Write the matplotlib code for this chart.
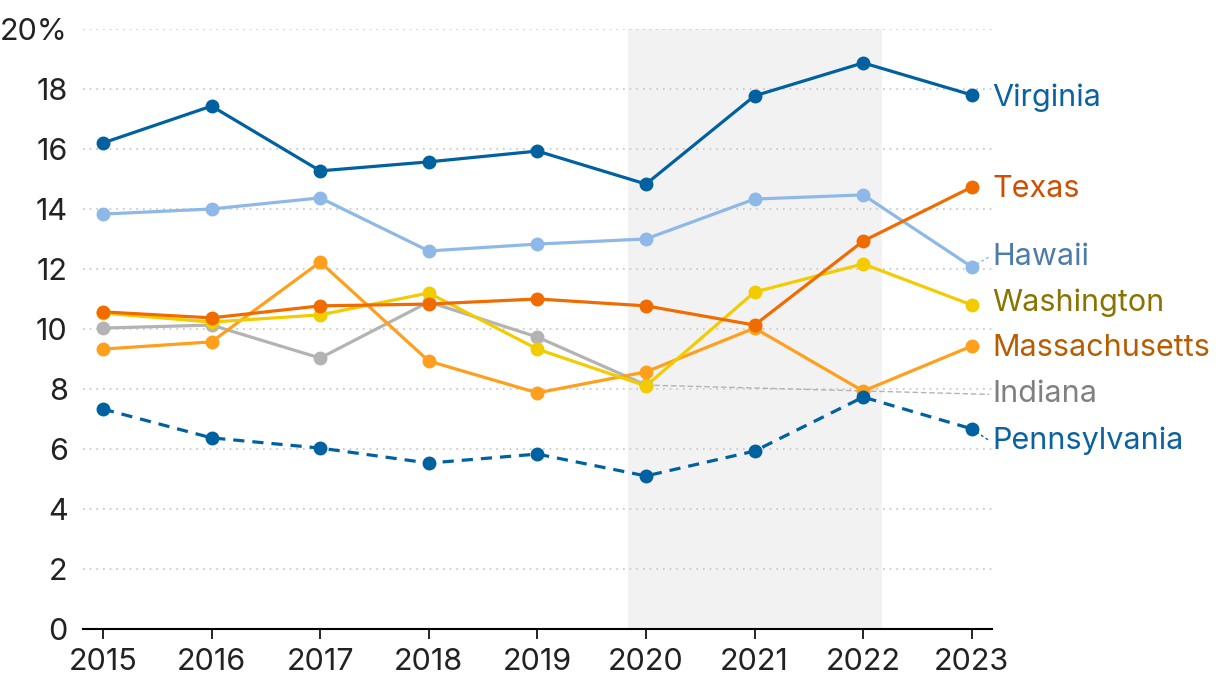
import matplotlib.pyplot as plt

plt.rcParams['font.family'] = ['Inter', 'DejaVu Sans']

years = [2015, 2016, 2017, 2018, 2019, 2020, 2021, 2022, 2023]
virginia = [16.2, 17.43, 15.27, 15.57, 15.93, 14.83, 17.77, 18.87, 17.8]
hawaii = [13.83, 14.0, 14.37, 12.6, 12.83, 13.0, 14.33, 14.47, 12.07]
texas = [10.57, 10.37, 10.77, 10.83, 11.0, 10.77, 10.13, 12.93, 14.73]
washington = [10.53, 10.23, 10.47, 11.2, 9.33, 8.1, 11.23, 12.17, 10.8]
massachusetts = [9.33, 9.57, 12.23, 8.93, 7.87, 8.57, 10.03, 7.93, 9.43]
indiana = [10.03, 10.13, 9.03, 10.9, 9.73, 8.13]
pennsylvania = [7.33, 6.37, 6.03, 5.53, 5.83, 5.1, 5.93, 7.73, 6.67]

# label positions on the right (y in data units)
label_y = {'Virginia': 17.7, 'Texas': 14.68, 'Hawaii': 12.4, 'Washington': 10.88,
           'Massachusetts': 9.35, 'Indiana': 7.82, 'Pennsylvania': 6.28}

fig = plt.figure(figsize=(12.2, 6.98), dpi=100)
ax = fig.add_axes([0.068, 0.0989, 0.7451, 0.8596])

ax.axvspan(2019.83, 2022.17, color='#f2f2f2', zorder=0, lw=0)

series = [
    ('Hawaii', years, hawaii, '#8db8e8', '-', '#4d7bab'),
    ('Indiana', years[:6], indiana, '#b3b3b3', '-', '#808080'),
    ('Massachusetts', years, massachusetts, '#ff9f1c', '-', '#b85c00'),
    ('Washington', years, washington, '#f2cc00', '-', '#8a7300'),
    ('Texas', years, texas, '#f06c00', '-', '#cf4f00'),
    ('Pennsylvania', years, pennsylvania, '#0061a0', (0, (3.5, 2.5)), '#0a62a0'),
    ('Virginia', years, virginia, '#0061a0', '-', '#0a62a0'),
]

lx = 2023.19
for name, xs, ys, c, ls, tc in series:
    ax.plot(xs, ys, color=c, lw=2.3, ls=ls, zorder=3, clip_on=False)
    ax.plot(xs, ys, 'o', color=c, ms=9, zorder=4, clip_on=False)
    if name == 'Indiana':
        ax.plot([xs[-1], lx - 0.03], [ys[-1], label_y[name]], color='#b3b3b3',
                lw=1, ls=(0, (4, 2)), zorder=2, clip_on=False)
    elif abs(ys[-1] - label_y[name]) > 0.15:
        ax.plot([xs[-1], lx - 0.03], [ys[-1], label_y[name]], color=c,
                lw=1, ls=(0, (2, 2)), zorder=2, clip_on=False)
    ax.text(lx, label_y[name], name, color=tc, fontsize=22, va='center', ha='left')

ax.set_xlim(2014.816, 2023.186)
ax.set_ylim(0, 20)
ax.set_yticks(range(0, 21, 2))
ax.set_yticklabels([str(v) if v < 20 else '20%' for v in range(0, 21, 2)])
ax.set_xticks(years)
ax.grid(axis='y', color='#c4c4c4', ls=(0, (1, 3)), lw=1.2)
ax.set_axisbelow(True)
for s in ['left', 'right', 'top']:
    ax.spines[s].set_visible(False)
ax.spines['bottom'].set_linewidth(1.5)
ax.tick_params(axis='y', length=0, labelsize=22, pad=11, labelcolor='#222222')
ax.tick_params(axis='x', length=7, width=1.2, labelsize=22, pad=7, labelcolor='#222222')

plt.savefig('out.png', dpi=100)
